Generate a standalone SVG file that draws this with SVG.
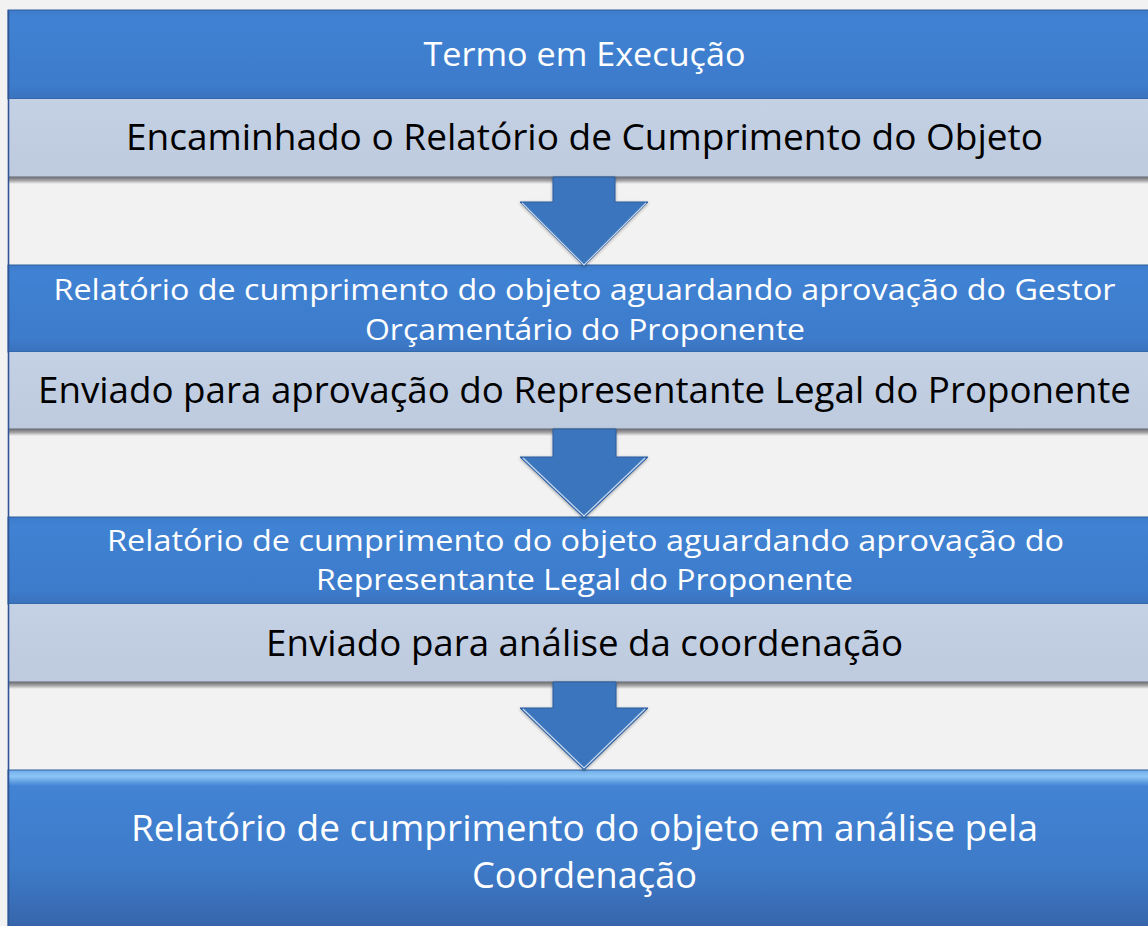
<svg xmlns="http://www.w3.org/2000/svg" width="1148" height="926" viewBox="0 0 1148 926">
<defs>
<linearGradient id="gBlue" x1="0" y1="0" x2="0" y2="1">
<stop offset="0" stop-color="#3E7CCB"/>
<stop offset="0.1" stop-color="#4082D3"/>
<stop offset="0.85" stop-color="#3D7BCB"/>
<stop offset="1" stop-color="#3A72BD"/>
</linearGradient>
<linearGradient id="gFinal" x1="0" y1="0" x2="0" y2="1">
<stop offset="0" stop-color="#6FAEEB"/>
<stop offset="0.04" stop-color="#8CC4F5"/>
<stop offset="0.1" stop-color="#4283D4"/>
<stop offset="0.6" stop-color="#3E7BC9"/>
<stop offset="0.95" stop-color="#3767AE"/>
<stop offset="1" stop-color="#33609F"/>
</linearGradient>
<linearGradient id="gLight" x1="0" y1="0" x2="0" y2="1">
<stop offset="0" stop-color="#C4D0E3"/>
<stop offset="1" stop-color="#BECBDF"/>
</linearGradient>
<linearGradient id="gShadow" x1="0" y1="0" x2="0" y2="1">
<stop offset="0" stop-color="#6E6E72"/>
<stop offset="0.5" stop-color="#A5A5A8"/>
<stop offset="1" stop-color="#F2F2F2"/>
</linearGradient>
<linearGradient id="gArrow" x1="0" y1="0" x2="0" y2="1">
<stop offset="0" stop-color="#3A74BE"/>
<stop offset="1" stop-color="#3B74BC"/>
</linearGradient>
<filter id="soft" x="-10%" y="-10%" width="120%" height="130%">
<feDropShadow dx="0" dy="1" stdDeviation="1.5" flood-color="#000" flood-opacity="0.35"/>
</filter>
</defs>
<style>
.bar{fill:url(#gBlue);stroke:#2F5C9A;stroke-width:1}
.light{fill:url(#gLight)}
.wt{font-family:"Open Sans","Noto Sans",sans-serif;fill:#FFFFFF;text-anchor:middle}
.bt{font-family:"Open Sans","Noto Sans",sans-serif;fill:#000000;text-anchor:middle}
.arrow{fill:url(#gArrow);stroke:#2E5E9E;stroke-width:1;filter:url(#soft)}
.edge{fill:none;stroke:#E8F0FA;stroke-width:1.2;opacity:0.8}
</style>
<rect x="0" y="0" width="1148" height="926" fill="#F2F2F2"/>

<g id="node1">
<rect x="8" y="10" width="1150" height="89" class="bar"/>
<text class="wt" x="584.5" y="66" font-size="32" textLength="322" lengthAdjust="spacingAndGlyphs">Termo em Execução</text>
</g>
<g id="node1b">
<rect x="8" y="177" width="1150" height="7" fill="url(#gShadow)"/>
<rect x="8" y="99" width="1150" height="78" class="light"/>
<line x1="8" y1="176.5" x2="1148" y2="176.5" stroke="#8F98A8" stroke-width="1"/>
<text class="bt" x="584.5" y="150" font-size="37" textLength="917" lengthAdjust="spacingAndGlyphs">Encaminhado o Relatório de Cumprimento do Objeto</text>
</g>

<g id="node2">
<rect x="8" y="265" width="1150" height="87" class="bar"/>
<text class="wt" x="584.5" y="300" font-size="29" textLength="1062" lengthAdjust="spacingAndGlyphs">Relatório de cumprimento do objeto aguardando aprovação do Gestor</text>
<text class="wt" x="585" y="340" font-size="29" textLength="440" lengthAdjust="spacingAndGlyphs">Orçamentário do Proponente</text>
</g>
<g id="node2b">
<rect x="8" y="429" width="1150" height="7" fill="url(#gShadow)"/>
<rect x="8" y="352" width="1150" height="77" class="light"/>
<line x1="8" y1="428.5" x2="1148" y2="428.5" stroke="#8F98A8" stroke-width="1"/>
<text class="bt" x="584.5" y="403" font-size="37" textLength="1093" lengthAdjust="spacingAndGlyphs">Enviado para aprovação do Representante Legal do Proponente</text>
</g>

<g id="node3">
<rect x="8" y="517" width="1150" height="87" class="bar"/>
<text class="wt" x="585.5" y="551" font-size="29" textLength="957" lengthAdjust="spacingAndGlyphs">Relatório de cumprimento do objeto aguardando aprovação do</text>
<text class="wt" x="584.5" y="590" font-size="29" textLength="537" lengthAdjust="spacingAndGlyphs">Representante Legal do Proponente</text>
</g>
<g id="node3b">
<rect x="8" y="682" width="1150" height="7" fill="url(#gShadow)"/>
<rect x="8" y="604" width="1150" height="78" class="light"/>
<line x1="8" y1="681.5" x2="1148" y2="681.5" stroke="#8F98A8" stroke-width="1"/>
<text class="bt" x="584.5" y="656" font-size="37" textLength="637" lengthAdjust="spacingAndGlyphs">Enviado para análise da coordenação</text>
</g>

<g id="node4">
<rect x="8" y="770" width="1150" height="160" fill="url(#gFinal)" stroke="#2F5C9A" stroke-width="1"/>
<text class="wt" x="584.5" y="841" font-size="37" textLength="907" lengthAdjust="spacingAndGlyphs">Relatório de cumprimento do objeto em análise pela</text>
<text class="wt" x="584.5" y="888" font-size="37" textLength="225" lengthAdjust="spacingAndGlyphs">Coordenação</text>
</g>

<g id="connectors">
<g id="arrow1">
<path class="arrow" d="M553,177 L615,177 L615,202 L648,202 L584,266 L520,202 L553,202 Z"/>
<path class="edge" d="M522,203 L584,265 L646,203"/>
</g>
<g id="arrow2">
<path class="arrow" d="M553,429 L616,429 L616,457 L648,457 L584,518 L520,457 L553,457 Z"/>
<path class="edge" d="M523,458 L584,516 L645,458" opacity="0.3"/>
</g>
<g id="arrow3">
<path class="arrow" d="M553,682 L616,682 L616,708 L648,708 L584,770 L520,708 L553,708 Z"/>
<path class="edge" d="M523,709 L584,768 L645,709" opacity="0.3"/>
</g>
</g>

<line x1="8.5" y1="10" x2="8.5" y2="926" stroke="#2F5597" stroke-width="1.6"/>
</svg>
